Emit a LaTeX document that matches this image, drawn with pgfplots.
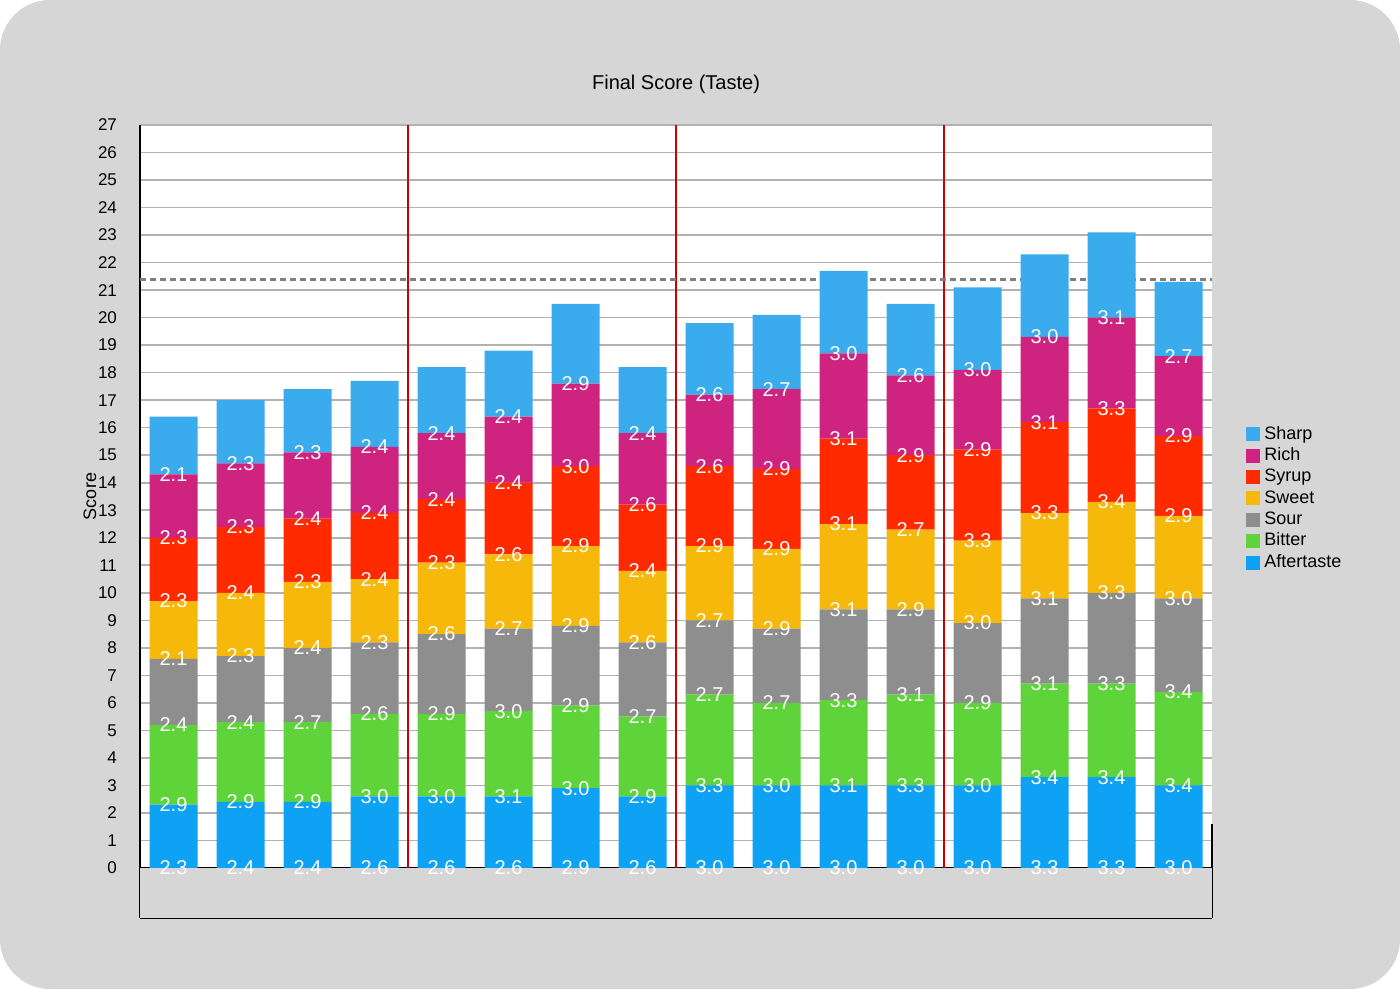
\documentclass[border=0pt]{standalone}
\usepackage{pgfplots}
\usepackage{pgfplotstable}
\pgfplotsset{compat=1.18}
\usepackage{fontspec}
\setmainfont{Liberation Sans}
\definecolor{cSharp}{HTML}{3AACEE}
\definecolor{cRich}{HTML}{CF2380}
\definecolor{cSyrup}{HTML}{FF2A00}
\definecolor{cSweet}{HTML}{F6B90B}
\definecolor{cSour}{HTML}{8E8E8E}
\definecolor{cBitter}{HTML}{5ED43A}
\definecolor{cAfter}{HTML}{0EA2F5}
\definecolor{bg}{HTML}{D6D6D6}
\pgfplotstableread{
x  After Bitter Sour Sweet Syrup Rich Sharp
0  2.3 2.9 2.4 2.1 2.3 2.3 2.1
1  2.4 2.9 2.4 2.3 2.4 2.3 2.3
2  2.4 2.9 2.7 2.4 2.3 2.4 2.3
3  2.6 3.0 2.6 2.3 2.4 2.4 2.4
4  2.6 3.0 2.9 2.6 2.3 2.4 2.4
5  2.6 3.1 3.0 2.7 2.6 2.4 2.4
6  2.9 3.0 2.9 2.9 2.9 3.0 2.9
7  2.6 2.9 2.7 2.6 2.4 2.6 2.4
8  3.0 3.3 2.7 2.7 2.9 2.6 2.6
9  3.0 3.0 2.7 2.9 2.9 2.9 2.7
10 3.0 3.1 3.3 3.1 3.1 3.1 3.0
11 3.0 3.3 3.1 2.9 2.7 2.9 2.6
12 3.0 3.0 2.9 3.0 3.3 2.9 3.0
13 3.3 3.4 3.1 3.1 3.3 3.1 3.0
14 3.3 3.4 3.3 3.3 3.4 3.3 3.1
15 3.0 3.4 3.4 3.0 2.9 2.9 2.7
}\data
\newcommand\seg[2]{\addplot+[fill=#2,draw=none,
  point meta=\thisrow{#1},
  visualization depends on={\thisrow{#1}\as\vv},
  nodes near coords,
  every node near coord/.append style={anchor=center,yshift=-\vv*6.88pt,text=white,font=\fontsize{10}{12}\selectfont},
  nodes near coords={\pgfmathprintnumber[fixed,fixed zerofill,precision=1]{\pgfplotspointmeta}}
 ] table[x=x,y=#1]{\data};}
\begin{document}
\begin{tikzpicture}[x=1pt,y=1pt]
\fill[bg,rounded corners=25pt] (0,0) rectangle (700,494.5);
\begin{axis}[at={(70pt,60.5pt)},anchor=south west,scale only axis,
 width=536pt,height=371.5pt,
 xmin=-0.5,xmax=15.5,ymin=0,ymax=27,
 ybar stacked,bar width=24pt,
 axis background/.style={fill=white},
 axis line style={draw=none},
 ytick={0,1,...,27},
 tick style={draw=none},
 ymajorgrids,major grid style={draw=gray!60,line width=0.8pt},
 xtick=\empty,
 minor xtick={0.5,1.5,...,14.5},xminorgrids,minor grid style={draw=gray!60,line width=0.8pt},
 yticklabel style={font=\fontsize{8.5}{10}\selectfont,xshift=-8pt},
 /pgf/number format/assume math mode=true,
 ylabel={Score},ylabel style={font=\fontsize{9}{11}\selectfont,yshift=-6pt},
 title={Final Score (Taste)},title style={font=\fontsize{10}{12}\selectfont,yshift=6pt},
 clip=false,
 legend style={at={(1.026,0.606)},anchor=north west,draw=none,fill=none,
   font=\fontsize{9}{10}\selectfont,row sep=-1.2pt},
 legend cell align=left,reverse legend,
 legend image code/.code={\fill[#1] (0pt,-3.5pt) rectangle (7pt,3.5pt);},
]
\seg{After}{cAfter}
\seg{Bitter}{cBitter}
\seg{Sour}{cSour}
\seg{Sweet}{cSweet}
\seg{Syrup}{cSyrup}
\seg{Rich}{cRich}
\seg{Sharp}{cSharp}
\legend{Aftertaste,Bitter,Sour,Sweet,Syrup,Rich,Sharp}
\draw[gray,densely dashed,line width=1.5pt] (axis cs:-0.5,21.4) -- (axis cs:15.5,21.4);
\draw[red!80!black,line width=1pt] (axis cs:3.5,0) -- (axis cs:3.5,27);
\draw[red!80!black,line width=1pt] (axis cs:7.5,0) -- (axis cs:7.5,27);
\draw[red!80!black,line width=1pt] (axis cs:11.5,0) -- (axis cs:11.5,27);
\fill[bg] (axis cs:-0.5,-1.82) rectangle (axis cs:15.5,0);
\draw[black,line width=1pt] (axis cs:-0.5,-1.82) -- (axis cs:15.5,-1.82);
\draw[black,line width=1.2pt] (axis cs:-0.5,0) -- (axis cs:15.5,0);
\draw[black,line width=1pt] (axis cs:-0.5,27) -- (axis cs:-0.5,-1.82);
\draw[black,line width=1pt] (axis cs:3.5,0) -- (axis cs:3.5,-1.82);
\draw[black,line width=1pt] (axis cs:7.5,0) -- (axis cs:7.5,-1.82);
\draw[black,line width=1pt] (axis cs:11.5,0) -- (axis cs:11.5,-1.82);
\draw[black,line width=1pt] (axis cs:15.5,1.6) -- (axis cs:15.5,-1.82);
\node[font=\fontsize{10.5}{12}\selectfont] at (axis cs:1.5,-0.95) {208 C};
\node[font=\fontsize{10.5}{12}\selectfont] at (axis cs:5.5,-0.95) {210 C};
\node[font=\fontsize{10.5}{12}\selectfont] at (axis cs:9.5,-0.95) {212 C Baseline};
\node[font=\fontsize{10.5}{12}\selectfont] at (axis cs:13.5,-0.95) {214 C};
\end{axis}
\end{tikzpicture}
\end{document}
